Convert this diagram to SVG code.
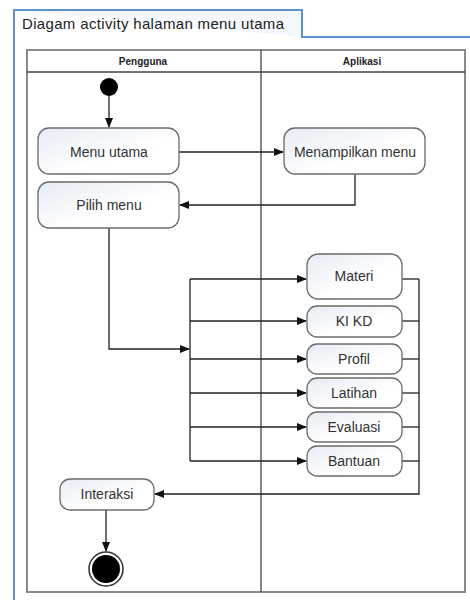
<svg xmlns="http://www.w3.org/2000/svg" width="470" height="600" viewBox="0 0 470 600">
<style>
.frame{fill:none;stroke:#5b93cf;stroke-width:2}
.lane{fill:none;stroke:#444;stroke-width:1.3}
.act{stroke:#6b6b6b;stroke-width:1.3;fill:url(#g)}
.t{font-family:"Liberation Sans",Arial,sans-serif;font-size:14px;fill:#333;text-anchor:middle}
.h{font-family:"Liberation Sans",Arial,sans-serif;font-size:10px;font-weight:bold;fill:#222;text-anchor:middle}
.c{fill:none;stroke:#222;stroke-width:1.3}
</style>
<defs>
<linearGradient id="g" x1="0" y1="0" x2="1" y2="1">
<stop offset="0" stop-color="#e6ecf4"/>
<stop offset="0.6" stop-color="#ffffff"/>
</linearGradient>
<marker id="a" markerWidth="10" markerHeight="8" refX="9" refY="4" orient="auto" markerUnits="userSpaceOnUse">
<path d="M0,0 L10,4 L0,8 Z" fill="#111"/>
</marker>
</defs>
<rect width="470" height="600" fill="#fff"/>
<g id="frame">
<path d="M14,10 H302 V37" fill="#f4f7fb" stroke="#5b93cf" stroke-width="2"/>
<path class="frame" d="M14,600 V10 H302 V37 H470"/>
<text x="22" y="29" font-family="Liberation Sans,Arial,sans-serif" font-size="15" textLength="262" lengthAdjust="spacing" fill="#222">Diagam activity halaman menu utama</text>
</g>
<g id="lanes">
<rect x="27" y="50" width="438" height="542" fill="none" stroke="#8a8a8a" stroke-width="2"/>
<line class="lane" x1="27" y1="72" x2="465" y2="72"/>
<line class="lane" x1="261" y1="50" x2="261" y2="592"/>
<text class="h" x="143" y="65">Pengguna</text>
<text class="h" x="362" y="65">Aplikasi</text>
</g>
<g id="connectors">
<line class="c" x1="109" y1="95" x2="109" y2="127" marker-end="url(#a)"/>
<line class="c" x1="179" y1="152" x2="283" y2="152" marker-end="url(#a)"/>
<polyline class="c" points="355,174 355,205 180,205" marker-end="url(#a)"/>
<polyline class="c" points="109,228 109,349 189,349" marker-end="url(#a)"/>
<line class="c" x1="190" y1="279" x2="190" y2="461"/>
<line class="c" x1="190" y1="279" x2="306" y2="279" marker-end="url(#a)"/>
<line class="c" x1="190" y1="321" x2="306" y2="321" marker-end="url(#a)"/>
<line class="c" x1="190" y1="359" x2="306" y2="359" marker-end="url(#a)"/>
<line class="c" x1="190" y1="393" x2="306" y2="393" marker-end="url(#a)"/>
<line class="c" x1="190" y1="427" x2="306" y2="427" marker-end="url(#a)"/>
<line class="c" x1="190" y1="461" x2="306" y2="461" marker-end="url(#a)"/>
<line class="c" x1="402" y1="279" x2="419" y2="279"/>
<line class="c" x1="402" y1="321" x2="419" y2="321"/>
<line class="c" x1="402" y1="359" x2="419" y2="359"/>
<line class="c" x1="402" y1="393" x2="419" y2="393"/>
<line class="c" x1="402" y1="427" x2="419" y2="427"/>
<line class="c" x1="402" y1="461" x2="419" y2="461"/>
<polyline class="c" points="419,279 419,494 155,494" marker-end="url(#a)"/>
<line class="c" x1="106" y1="510" x2="106" y2="551" marker-end="url(#a)"/>
</g>
<g id="start"><circle cx="109" cy="87" r="9" fill="#000"/></g>
<g id="menu-utama"><rect class="act" x="38" y="128" width="141" height="46" rx="11"/><text class="t" x="109" y="157">Menu utama</text></g>
<g id="menampilkan-menu"><rect class="act" x="284" y="128" width="141" height="46" rx="11"/><text class="t" x="355" y="157">Menampilkan menu</text></g>
<g id="pilih-menu"><rect class="act" x="38" y="182" width="141" height="46" rx="11"/><text class="t" x="109" y="210">Pilih menu</text></g>
<g id="materi"><rect class="act" x="307" y="254" width="95" height="45" rx="11"/><text class="t" x="354" y="281">Materi</text></g>
<g id="kikd"><rect class="act" x="307" y="306" width="95" height="31" rx="10"/><text class="t" x="354" y="326">KI KD</text></g>
<g id="profil"><rect class="act" x="307" y="344" width="95" height="30" rx="10"/><text class="t" x="354" y="364">Profil</text></g>
<g id="latihan"><rect class="act" x="307" y="378" width="95" height="30" rx="10"/><text class="t" x="354" y="398">Latihan</text></g>
<g id="evaluasi"><rect class="act" x="307" y="412" width="95" height="30" rx="10"/><text class="t" x="354" y="432">Evaluasi</text></g>
<g id="bantuan"><rect class="act" x="307" y="446" width="95" height="30" rx="10"/><text class="t" x="354" y="466">Bantuan</text></g>
<g id="interaksi"><rect class="act" x="60" y="479" width="94" height="31" rx="10"/><text class="t" x="107" y="499">Interaksi</text></g>
<g id="end"><circle cx="106" cy="569" r="17" fill="#fff" stroke="#333" stroke-width="1.5"/><circle cx="106" cy="569" r="14" fill="#000"/></g>
</svg>
